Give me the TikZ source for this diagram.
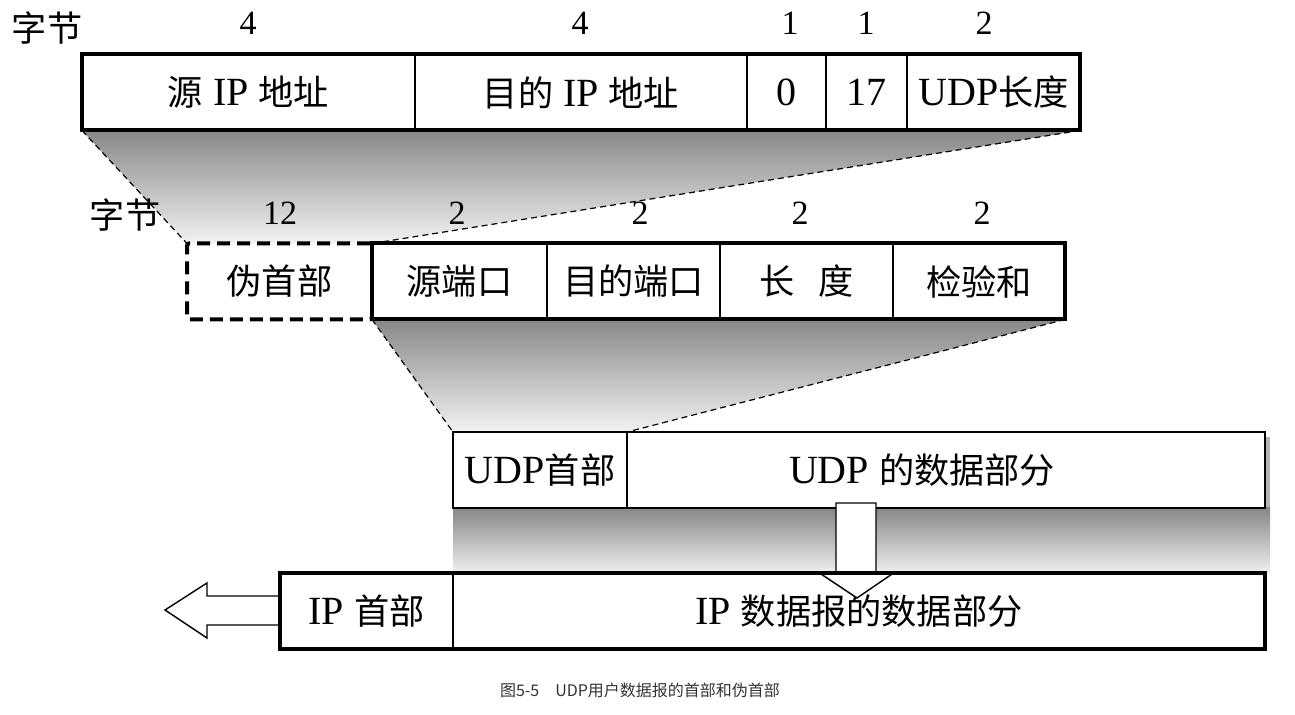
\documentclass[tikz,border=0pt]{standalone}
\usepackage{fontspec}
\setmainfont{Liberation Serif}
\newfontfamily\cjk{Noto Sans CJK SC}[Scale=0.88]
\newfontfamily\capfont{Noto Sans CJK SC}
\newcommand{\zh}[1]{{\cjk #1}}
\usetikzlibrary{positioning,backgrounds}

\definecolor{shadedark}{gray}{0.53}
\definecolor{shadelight}{gray}{0.95}

\tikzset{
    cell/.style={draw, fill=white, line width=0.6pt, inner sep=0pt, outer sep=0pt,
        minimum height=38pt, font=\fontsize{20}{24}\selectfont},
    pseudo/.style={cell, line width=2pt, dash pattern=on 6.5pt off 3.5pt, rounded corners=1pt},
    frame/.style={line width=2pt},
    guide/.style={line width=0.6pt, dash pattern=on 3pt off 2pt},
    bytes/.style={font=\fontsize{17}{20}\selectfont},
    blockarrow/.style={draw, fill=white, line width=0.7pt, line join=miter}
}

\begin{document}
\begin{tikzpicture}[x=0.5pt, y=-0.5pt, node distance=0pt]
\useasboundingbox (0,0) rectangle (1295,715);

% pseudo header fields
\node[bytes, font=\fontsize{20}{24}\selectfont] (unit1) at (47,28) {\zh{字节}};
\node[bytes] (b1) at (248,23) {4};
\node[bytes] (b2) at (580,23) {4};
\node[bytes] (b3) at (790,23) {1};
\node[bytes] (b4) at (866,23) {1};
\node[bytes] (b5) at (984,23) {2};
\node[cell, minimum width=166.5pt] (srcip) at (248.5,92.5) {\zh{源} IP \zh{地址}};
\node[cell, minimum width=166pt, right=of srcip] (dstip) {\zh{目的} IP \zh{地址}};
\node[cell, minimum width=39.5pt, right=of dstip] (zero) {0};
\node[cell, minimum width=40.5pt, right=of zero] (proto) {17};
\node[cell, minimum width=86.5pt, right=of proto] (udplen) {UDP\zh{长度}};
\draw[frame] (srcip.north west) rectangle (udplen.south east);

% UDP header fields
\node[bytes, font=\fontsize{20}{24}\selectfont] (unit2) at (125,215) {\zh{字节}};
\node[bytes] (c1) at (280,213) {12};
\node[bytes] (c2) at (457,213) {2};
\node[bytes] (c3) at (640,213) {2};
\node[bytes] (c4) at (800,213) {2};
\node[bytes] (c5) at (982,213) {2};
\node[pseudo, minimum width=92.5pt] (pseudo) at (279.5,281.5) {\zh{伪首部}};
\node[cell, minimum width=87.5pt, right=of pseudo] (sport) {\zh{源端口}};
\node[cell, minimum width=86.5pt, right=of sport] (dport) {\zh{目的端口}};
\node[cell, minimum width=86.5pt, right=of dport] (ulen) {\zh{长}\hspace{0.6em}\zh{度}};
\node[cell, minimum width=86pt, right=of ulen] (csum) {\zh{检验和}};
\draw[frame] (sport.north west) rectangle (csum.south east);

% UDP datagram
\node[cell, minimum width=87pt] (udphdr) at (540,470) {UDP\zh{首部}};
\node[cell, minimum width=319pt, right=of udphdr] (udpdata) {\hspace*{-24pt}UDP \zh{的数据部分}};
\draw[line width=1pt] (udphdr.north west) rectangle (udpdata.south east);

% IP datagram
\node[cell, minimum width=86.5pt] (iphdr) at (366.5,611) {IP \zh{首部}};
\node[cell, minimum width=406pt, right=of iphdr] (ipdata) {IP \zh{数据报的数据部分}};

\begin{scope}[on background layer]
    \shade[top color=shadedark, bottom color=shadelight]
        (srcip.south west) -- (udplen.south east) -- (sport.north west) -- (pseudo.north west) -- cycle;
    \shade[top color=shadedark, bottom color=shadelight]
        (sport.south west) -- (csum.south east) -- (udphdr.north east) -- (udphdr.north west) -- cycle;
    \fill[gray!60] ([shift={(2.5pt,-2.5pt)}]udphdr.north west) rectangle ([shift={(2.5pt,-2.5pt)}]udpdata.south east);
    \shade[top color=shadedark, bottom color=gray!12]
        (udphdr.south west) rectangle ([xshift=2.5pt]ipdata.north east);
\end{scope}

\draw[guide] (srcip.south west) -- (pseudo.north west);
\draw[guide] (udplen.south east) -- (sport.north west);
\draw[guide] (sport.south west) -- (udphdr.north west);
\draw[guide] (csum.south east) -- (udphdr.north east);

% arrows
\draw[blockarrow] (836,503) -- ++(40,0) -- ++(0,69) -- ++(19,0) -- ++(-38,26) -- ++(-39,-26) -- ++(18,0) -- cycle;
\draw[blockarrow] ([yshift=7.5pt]iphdr.west) -- ++(-73,0) -- ++(0,-13) -- ++(-42,27) -- ++(42,28) -- ++(0,-13) -- ++(73,0);
\draw[frame] (iphdr.north west) rectangle (ipdata.south east);

\node[font=\capfont\fontsize{8}{10}\selectfont, text=black!80] (caption) at (640,690) {图5-5\quad UDP用户数据报的首部和伪首部};
\end{tikzpicture}
\end{document}
